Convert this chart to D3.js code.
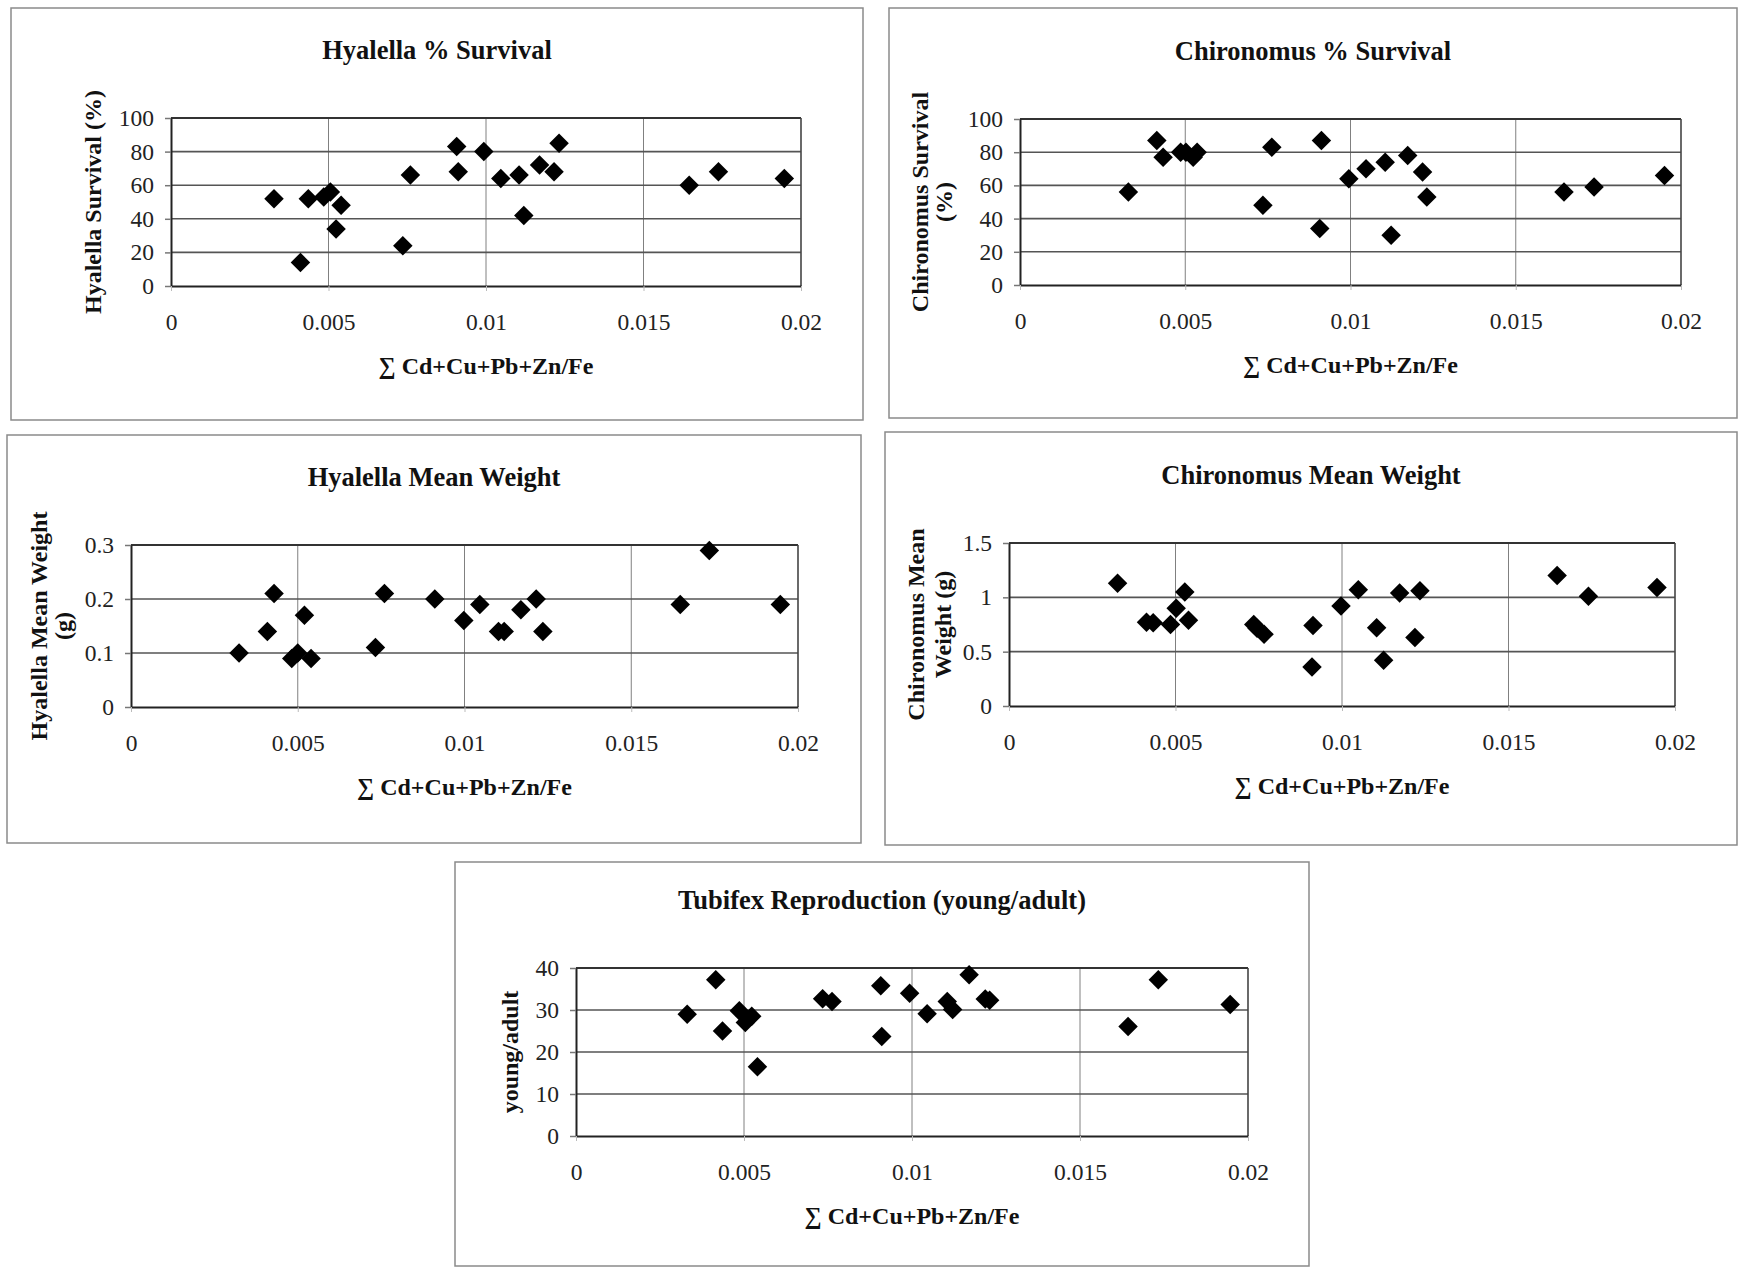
<!DOCTYPE html>
<html>
<head>
<meta charset="utf-8">
<script src="https://cdn.jsdelivr.net/npm/d3@7"></script>
<style>
  body { margin: 0; background: #fff; }
  svg { display: block; }
  text { font-family: "Liberation Serif", "Times New Roman", serif; fill: #111; }
</style>
</head>
<body>
<div id="chart"></div>
<script>
// x axis tick labels shared by all five panels
const xTicks = [0, 0.005, 0.01, 0.015, 0.02];
const xLabel = "\u2211 Cd+Cu+Pb+Zn/Fe";

// Hyalella % survival
const hyaSurvX = [0.00327, 0.00411, 0.00436, 0.00485, 0.00506, 0.00524, 0.0054, 0.00736, 0.0076, 0.00907, 0.00912,
  0.00993, 0.01047, 0.01105, 0.0112, 0.0117, 0.01216, 0.01232, 0.01645, 0.01738, 0.01947];
const hyaSurvY = [52, 14, 52, 53, 56, 34, 48, 24, 66, 83, 68, 80, 64, 66, 42, 72, 68, 85, 60, 68, 64];
const survTicks = [0, 20, 40, 60, 80, 100];

// Chironomus % survival
const chiSurvX = [0.00328, 0.00414, 0.00433, 0.00486, 0.00502, 0.00524, 0.00536, 0.00735, 0.00762, 0.00912, 0.00907,
  0.00995, 0.01047, 0.01105, 0.01123, 0.01173, 0.01218, 0.01231, 0.01646, 0.01737, 0.0195];
const chiSurvY = [56, 87, 77, 80, 80, 77, 80, 48, 83, 87, 34, 64, 70, 74, 30, 78, 68, 53, 56, 59, 66];

// Hyalella mean weight (g)
const hyaWtX = [0.00324, 0.00409, 0.00429, 0.00482, 0.005, 0.0052, 0.0054, 0.00733, 0.0076, 0.00911,
  0.00998, 0.01046, 0.01102, 0.01119, 0.01169, 0.01215, 0.01235, 0.01647, 0.01734, 0.01947];
const hyaWtY = [0.10, 0.14, 0.21, 0.09, 0.10, 0.17, 0.09, 0.11, 0.21, 0.20, 0.16, 0.19, 0.14, 0.14, 0.18, 0.20, 0.14, 0.19, 0.29, 0.19];
const hyaWtTicks = [0, 0.1, 0.2, 0.3];

// Chironomus mean weight (g)
const chiWtX = [0.00326, 0.00413, 0.00433, 0.00485, 0.00502, 0.00528, 0.00539, 0.00735, 0.00745, 0.00766, 0.00913,
  0.0091, 0.00997, 0.01049, 0.01104, 0.01125, 0.01173, 0.01219, 0.01234, 0.01646, 0.0174, 0.01946];
const chiWtY = [1.13, 0.77, 0.765, 0.75, 0.90, 1.05, 0.79, 0.75, 0.715, 0.66, 0.74, 0.36, 0.92, 1.07, 0.72, 0.42,
  1.04, 0.63, 1.06, 1.20, 1.01, 1.09];
const chiWtTicks = [0, 0.5, 1, 1.5];

// Tubifex reproduction (young/adult)
const tubX = [0.00331, 0.00416, 0.00436, 0.00486, 0.00504, 0.00523, 0.0054, 0.00734, 0.00762, 0.00907, 0.0091,
  0.00993, 0.01045, 0.01105, 0.01121, 0.0117, 0.01218, 0.01231, 0.01643, 0.01733, 0.01947];
const tubY = [29, 37.2, 25, 29.8, 27, 28.5, 16.5, 32.7, 32, 35.8, 23.7, 34, 29.1, 32, 30.1, 38.4, 32.6, 32.3, 26.1, 37.2, 31.3];
const tubTicks = [0, 10, 20, 30, 40];

const width = 1739, height = 1268;
const serif = "'Liberation Serif', 'Times New Roman', serif";

const svg = d3.select("#chart")
  .append("svg")
  .attr("width", width)
  .attr("height", height);

// frame = outer box, plot = inner plotting area
const panels = [
  { title: "Hyalella % Survival", yTitle: ["Hyalella Survival (%)"], yTitleX: [93],
    xs: hyaSurvX, ys: hyaSurvY, yTicks: survTicks,
    frame: [11, 8, 863, 420], plot: [171, 118, 801, 286] },
  { title: "Chironomus % Survival", yTitle: ["Chironomus Survival", "(%)"], yTitleX: [920, 944],
    xs: chiSurvX, ys: chiSurvY, yTicks: survTicks,
    frame: [889, 8, 1737, 418], plot: [1020, 119, 1681, 285] },
  { title: "Hyalella Mean Weight", yTitle: ["Hyalella Mean Weight", "(g)"], yTitleX: [39, 63],
    xs: hyaWtX, ys: hyaWtY, yTicks: hyaWtTicks,
    frame: [7, 435, 861, 843], plot: [131, 545, 798, 707] },
  { title: "Chironomus Mean Weight", yTitle: ["Chironomus Mean", "Weight (g)"], yTitleX: [916, 943],
    xs: chiWtX, ys: chiWtY, yTicks: chiWtTicks,
    frame: [885, 432, 1737, 845], plot: [1009, 543, 1675, 706] },
  { title: "Tubifex Reproduction (young/adult)", yTitle: ["young/adult"], yTitleX: [510],
    xs: tubX, ys: tubY, yTicks: tubTicks,
    frame: [455, 862, 1309, 1266], plot: [576, 968, 1248, 1136] }
];

const diamond = d3.symbol().type(d3.symbolSquare).size(190);

function drawPanel(p) {
  const [fx0, fy0, fx1, fy1] = p.frame;
  const [px0, py0, px1, py1] = p.plot;
  const g = svg.append("g");

  // outer frame
  g.append("rect")
    .attr("x", fx0).attr("y", fy0)
    .attr("width", fx1 - fx0).attr("height", fy1 - fy0)
    .attr("fill", "none").attr("stroke", "#8a8a8a").attr("stroke-width", 1.5);

  const x = d3.scaleLinear().domain([0, 0.02]).range([px0, px1]);
  const yMax = p.yTicks[p.yTicks.length - 1];
  const y = d3.scaleLinear().domain([0, yMax]).range([py1, py0]);

  // vertical grid
  g.selectAll(".vgrid")
    .data(xTicks.slice(1, -1))
    .enter().append("line")
      .attr("x1", d => x(d)).attr("x2", d => x(d))
      .attr("y1", py0).attr("y2", py1)
      .attr("stroke", "#808080").attr("stroke-width", 1);

  // horizontal grid
  g.selectAll(".hgrid")
    .data(p.yTicks.slice(1, -1))
    .enter().append("line")
      .attr("x1", px0).attr("x2", px1)
      .attr("y1", d => y(d)).attr("y2", d => y(d))
      .attr("stroke", "#555").attr("stroke-width", 1.6);

  // top and right border of plot area
  g.append("line")
    .attr("x1", px0).attr("x2", px1).attr("y1", py0).attr("y2", py0)
    .attr("stroke", "#333").attr("stroke-width", 2);
  g.append("line")
    .attr("x1", px1).attr("x2", px1).attr("y1", py0).attr("y2", py1)
    .attr("stroke", "#444").attr("stroke-width", 1.6);

  // axes
  const yAxis = g.append("g")
    .attr("transform", `translate(${px0},0)`)
    .call(d3.axisLeft(y).tickValues(p.yTicks).tickSize(6).tickSizeOuter(0).tickPadding(11)
      .tickFormat(d => String(d)));
  yAxis.select(".domain").attr("stroke", "#222").attr("stroke-width", 2);
  yAxis.selectAll(".tick line").attr("stroke", "#777").attr("stroke-width", 1.5);
  yAxis.selectAll(".tick text")
    .style("font-family", serif)
    .style("font-size", "23.5px")
    .style("fill", "#222");

  const xAxis = g.append("g")
    .attr("transform", `translate(0,${py1})`)
    .call(d3.axisBottom(x).tickValues(xTicks).tickSize(5).tickSizeOuter(0).tickPadding(22)
      .tickFormat(d => String(d)));
  xAxis.select(".domain").attr("stroke", "#222").attr("stroke-width", 2.2);
  xAxis.selectAll(".tick line").attr("stroke", "#bbb").attr("stroke-width", 1);
  xAxis.selectAll(".tick text")
    .style("font-family", serif)
    .style("font-size", "23.5px")
    .style("fill", "#222");

  // chart title
  g.append("text")
    .attr("x", (fx0 + fx1) / 2).attr("y", py0 - 68)
    .attr("text-anchor", "middle").attr("dominant-baseline", "central")
    .attr("font-size", "26.5px").attr("font-weight", "bold")
    .text(p.title);

  // x axis title
  g.append("text")
    .attr("x", (px0 + px1) / 2).attr("y", py1 + 80)
    .attr("text-anchor", "middle").attr("dominant-baseline", "central")
    .attr("font-size", "24px").attr("font-weight", "bold")
    .text(xLabel);

  // y axis title (one or two lines)
  p.yTitle.forEach((line, i) => {
    g.append("text")
      .attr("transform", `translate(${p.yTitleX[i]},${(py0 + py1) / 2}) rotate(-90)`)
      .attr("text-anchor", "middle").attr("dominant-baseline", "central")
      .attr("font-size", "24px").attr("font-weight", "bold")
      .text(line);
  });

  // points
  g.selectAll(".pt")
    .data(p.xs.map((v, i) => ({ x: v, y: p.ys[i] })))
    .enter().append("path")
      .attr("class", "pt")
      .attr("d", diamond)
      .attr("transform", d => `translate(${x(d.x)},${y(d.y)}) rotate(45)`)
      .attr("fill", "#000");
}

panels.forEach(drawPanel);
</script>
</body>
</html>
